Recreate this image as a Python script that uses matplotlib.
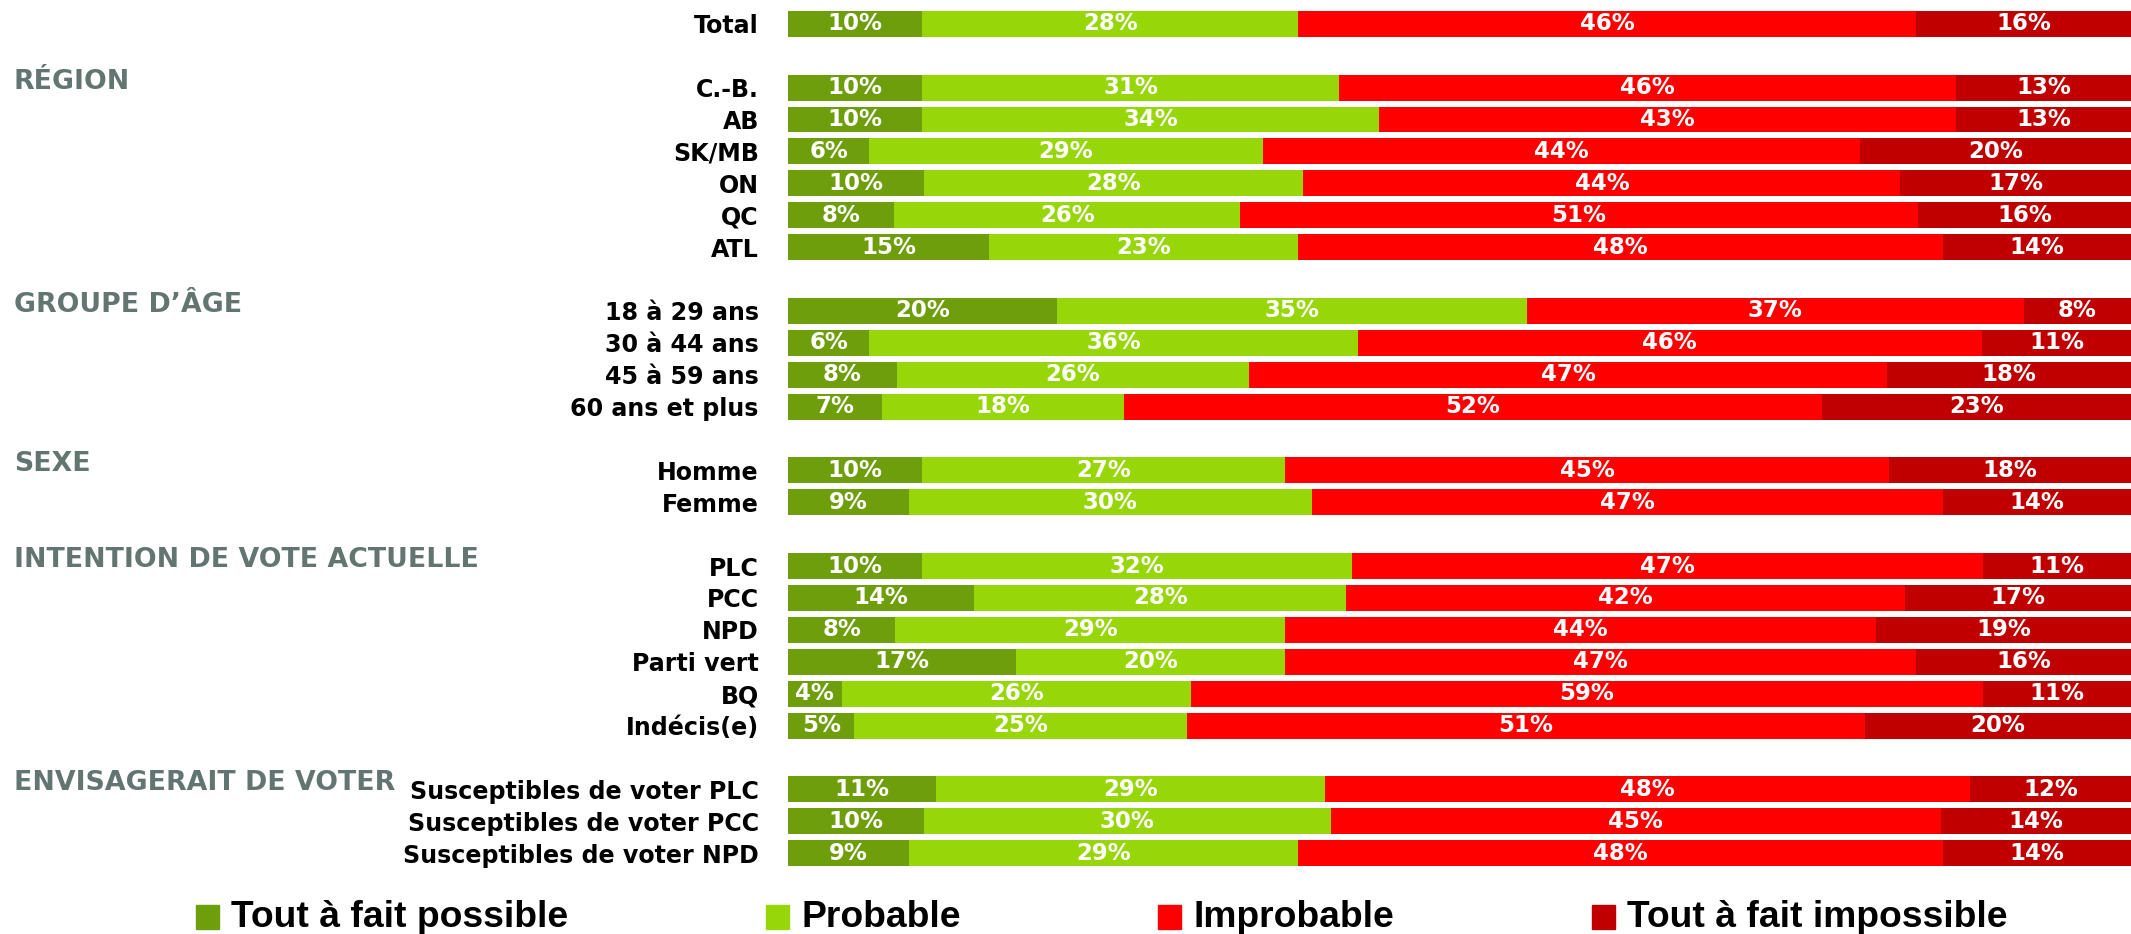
#!/usr/bin/env python3
"""Stacked 100% bars: likelihood of voting, by segment."""

import matplotlib
matplotlib.use("Agg")
import matplotlib.pyplot as plt
from matplotlib.patches import Rectangle
import numpy as np

# ── Data ──
SECTIONS = ["", "RÉGION", "GROUPE D’ÂGE", "SEXE", "INTENTION DE VOTE ACTUELLE", "ENVISAGERAIT DE VOTER"]
SECTION_ROWS = [
    ["Total"],
    ["C.-B.", "AB", "SK/MB", "ON", "QC", "ATL"],
    ["18 à 29 ans", "30 à 44 ans", "45 à 59 ans", "60 ans et plus"],
    ["Homme", "Femme"],
    ["PLC", "PCC", "NPD", "Parti vert", "BQ", "Indécis(e)"],
    ["Susceptibles de voter PLC", "Susceptibles de voter PCC", "Susceptibles de voter NPD"],
]

SERIES = ["Tout à fait possible", "Probable", "Improbable", "Tout à fait impossible"]

possible = [10, 10, 10, 6, 10, 8, 15, 20, 6, 8, 7, 10, 9, 10, 14, 8, 17, 4, 5, 11, 10, 9]
probable = [28, 31, 34, 29, 28, 26, 23, 35, 36, 26, 18, 27, 30, 32, 28, 29, 20, 26, 25, 29, 30, 29]
improbable = [46, 46, 43, 44, 44, 51, 48, 37, 46, 47, 52, 45, 47, 47, 42, 44, 47, 59, 51, 48, 45, 48]
impossible = [16, 13, 13, 20, 17, 16, 14, 8, 11, 18, 23, 18, 14, 11, 17, 19, 16, 11, 20, 12, 14, 14]

# ── Style ──
COLORS = ["#6e9e0b", "#97d70a", "#ff0000", "#c00000"]
HEADER = "#627571"
W, H = 2131, 934
DPI = 100

plt.rcParams["font.family"] = ["DejaVu Sans"]

# row positions: one empty slot between sections
labels, ypos, header_y = [], [], []
slot = 0
for i, rows in enumerate(SECTION_ROWS):
    if i > 0:
        slot += 1
    header_y.append(slot)
    for r in rows:
        labels.append(r)
        ypos.append(slot)
        slot += 1
ypos = np.array(ypos)

data = np.array([possible, probable, improbable, impossible], dtype=float)
shares = data / data.sum(axis=0) * 100

fig = plt.figure(figsize=(W / DPI, H / DPI), dpi=DPI)
x0 = 788 / W
top_px, bot_px = 0, 880
ax = fig.add_axes([x0, 1 - bot_px / H, 1 - x0, (bot_px - top_px) / H])

pitch = 31.9
first = 23.8
ax.set_ylim((bot_px - first) / pitch, -first / pitch)
ax.set_xlim(0, 100)

left = np.zeros(len(labels))
for k, name in enumerate(SERIES):
    ax.barh(ypos, shares[k], left=left, height=0.81, color=COLORS[k], label=name, linewidth=0)
    for y, l, w, v in zip(ypos, left, shares[k], data[k]):
        ax.text(l + w / 2, y, f"{int(v)}%", ha="center", va="center",
                color="white", fontsize=16.5, fontweight="bold")
    left += shares[k]

ax.set_yticks(ypos)
ax.set_yticklabels(labels, fontsize=17.1, fontweight="bold", color="black")
ax.tick_params(axis="y", length=0, pad=21)
ax.set_xticks([])
for s in ax.spines.values():
    s.set_visible(False)

# section headers
for name, hy in zip(SECTIONS, header_y):
    if not name:
        continue
    fy = 1 - (first + hy * pitch - 6) / H
    fig.text(14 / W, fy, name, ha="left", va="center", fontsize=19.3,
             fontweight="bold", color=HEADER)

# legend
leg_sq = [196, 766, 1158, 1592]
for name, c, sx in zip(SERIES, COLORS, leg_sq):
    fig.patches.append(Rectangle((sx / W, (H - 929) / H), 23 / W, 24 / H,
                                 transform=fig.transFigure, color=c, figure=fig))
    fig.text((sx + 35) / W, (H - 927) / H, name, ha="left", va="baseline",
             fontsize=26.8, fontweight="bold", color="black",
             family=["Liberation Sans", "DejaVu Sans"])

fig.savefig("out.png", dpi=DPI, facecolor="white")
